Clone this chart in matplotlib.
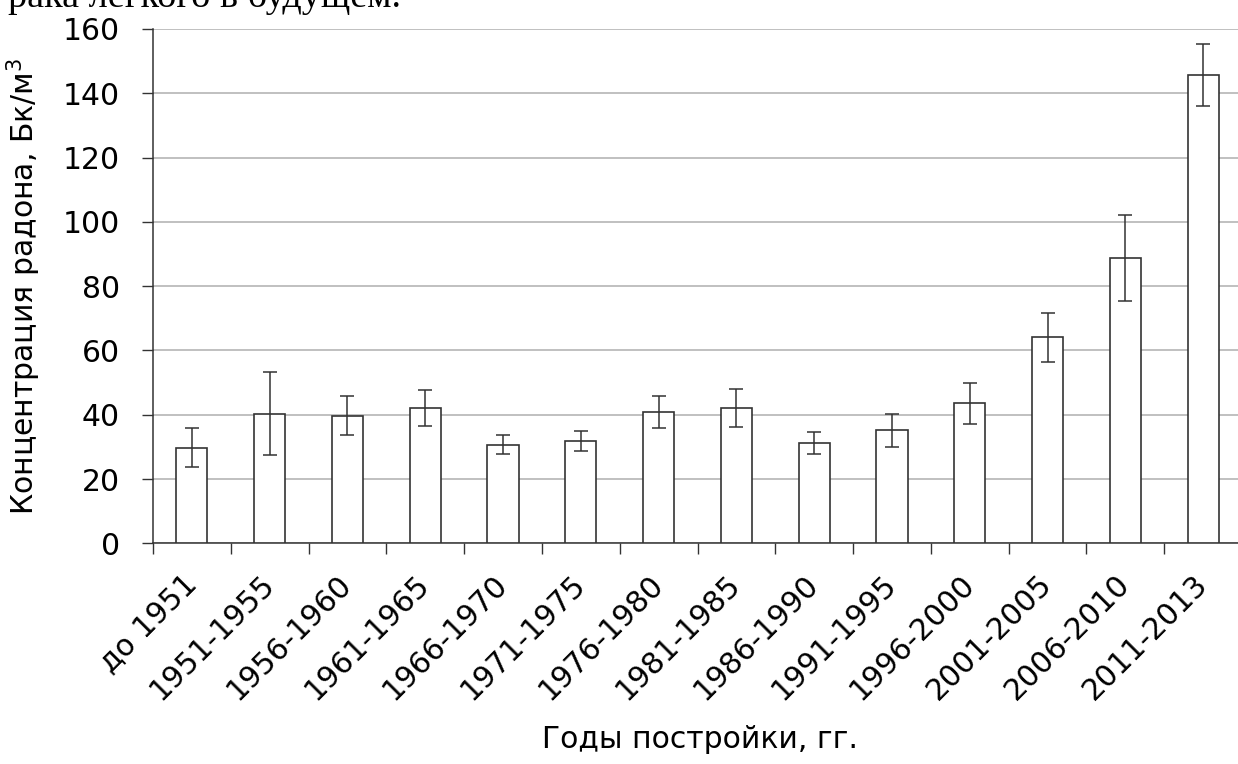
import matplotlib
matplotlib.use("Agg")
import matplotlib.pyplot as plt
import numpy as np

# periods of construction and mean radon concentration with error bars
periods = ["до 1951", "1951-1955", "1956-1960", "1961-1965", "1966-1970",
           "1971-1975", "1976-1980", "1981-1985", "1986-1990", "1991-1995",
           "1996-2000", "2001-2005", "2006-2010", "2011-2013"]
radon = [29.8, 40.3, 39.7, 42.1, 30.7, 31.8, 40.8, 42.1, 31.1, 35.1,
         43.6, 64.1, 88.7, 145.6]
radon_err = [6.1, 12.9, 6.0, 5.7, 2.9, 3.1, 5.0, 6.0, 3.4, 5.0,
             6.4, 7.7, 13.3, 9.6]

plt.rcParams['font.family'] = ['DejaVu Sans']
dark = '#333333'

fig = plt.figure(figsize=(12.38, 7.64), dpi=100)
ax = fig.add_axes([153 / 1238, 1 - 543.3 / 764, (1242 - 153) / 1238, (543.3 - 29) / 764])

x = np.arange(len(periods))
ax.bar(x, radon, width=0.4, color='white', edgecolor=dark, linewidth=1.2, zorder=3)
ax.errorbar(x, radon, yerr=radon_err, fmt='none', ecolor=dark, elinewidth=1.1,
            capsize=5, capthick=1.1, zorder=4)

ax.set_xlim(-0.5, len(periods) - 0.5)
ax.set_ylim(0, 160)
ax.set_yticks(np.arange(0, 161, 20))
ax.yaxis.grid(True, color='#b5b5b5', linewidth=1.2, zorder=0)
ax.set_axisbelow(True)

# tick marks between categories, labels under the bars
ax.set_xticks(np.arange(-0.5, len(periods), 1.0))
ax.set_xticklabels([])
ax.set_xticks(x, minor=True)
ax.set_xticklabels(periods, minor=True, rotation=45, ha='right', va='center',
                   rotation_mode='anchor', fontsize=21.5)
ax.tick_params(axis='x', which='major', length=8, width=1, color=dark, direction='out')
ax.tick_params(axis='x', which='minor', length=0, pad=26)
ax.tick_params(axis='y', length=8, width=1, color=dark, pad=16, labelsize=21.5)

for s in ['top', 'right']:
    ax.spines[s].set_visible(False)
for s in ['left', 'bottom']:
    ax.spines[s].set_color(dark)
    ax.spines[s].set_linewidth(1.1)

ax.set_ylabel("Концентрация радона, Бк/м$^3$", fontsize=21.5, labelpad=14)
fig.text(700 / 1238, 1 - 740 / 764, "Годы постройки, гг.", ha='center',
         va='center', fontsize=21.5)

# cut-off line of the surrounding document text
fig.text(8 / 1238, 1 - 7 / 764, "рака легкого в будущем.", ha='left',
         va='baseline', fontsize=27.5, family=['Liberation Serif'])

fig.savefig("out.png", dpi=100)
